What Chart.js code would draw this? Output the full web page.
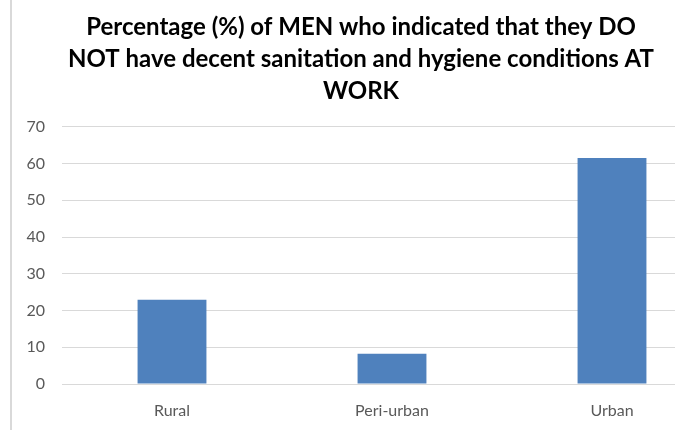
<!DOCTYPE html>
<html>
<head>
<meta charset="utf-8">
<script src="https://cdn.jsdelivr.net/npm/chart.js@4.4.0/dist/chart.umd.min.js"></script>
<style>
  html, body { margin: 0; padding: 0; background: #fff; overflow: hidden; }
  #wrap { position: relative; width: 675px; height: 430px; overflow: hidden; }
  #borde { position: absolute; left: 10px; top: 0; width: 2px; height: 430px; background: #d9d9d9; }
  #grafica { position: absolute; left: 0; top: 0; }
</style>
</head>
<body>
<div id="wrap">
  <div id="borde"></div>
  <canvas id="grafica" width="722" height="430"></canvas>
</div>
<script>
// Datos de la gráfica
const categorias = ['Rural', 'Peri-urban', 'Urban'];
const porcentajes = [22.9, 8.2, 61.5];
const titulo = [
    'Percentage (%) of MEN who indicated that they DO',
    'NOT have decent sanitation and hygiene conditions AT',
    'WORK'
];
const ejeMin = 0;
const ejeMax = 70;
const ejePaso = 10;

const fuente = "Lato, 'Open Sans', sans-serif";

const ctx = document.getElementById('grafica').getContext('2d');
new Chart(ctx, {
    type: 'bar',
    data: {
        labels: categorias,
        datasets: [{
            data: porcentajes,
            backgroundColor: '#4f81bd',
            borderWidth: 0,
            categoryPercentage: 1,
            barPercentage: 0.313
        }]
    },
    options: {
        responsive: false,
        animation: false,
        layout: { padding: 0 },
        plugins: {
            legend: { display: false },
            tooltip: { enabled: false },
            title: {
                display: true,
                text: titulo,
                color: '#000',
                font: { family: fuente, size: 24, weight: 'bold', lineHeight: 1.33 },
                padding: { top: 11, bottom: 20 }
            }
        },
        scales: {
            x: {
                grid: { display: false, drawTicks: false },
                border: { display: false },
                ticks: {
                    color: '#595959',
                    font: { family: fuente, size: 16 },
                    padding: 17,
                    maxRotation: 0
                },
                afterFit: function(eje) { eje.height = 46; }
            },
            y: {
                min: ejeMin,
                max: ejeMax,
                grid: { color: '#d9d9d9', lineWidth: 1, drawTicks: false },
                border: { display: false },
                ticks: {
                    stepSize: ejePaso,
                    color: '#595959',
                    font: { family: fuente, size: 16 },
                    padding: 17
                },
                afterFit: function(eje) { eje.width = 62; }
            }
        }
    }
});
</script>
</body>
</html>
